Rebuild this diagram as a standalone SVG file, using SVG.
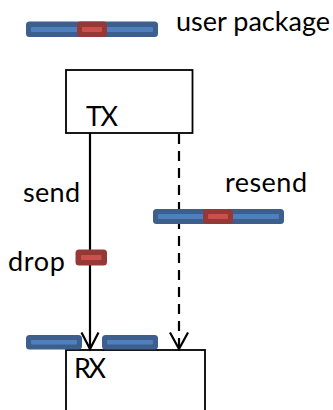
<svg xmlns="http://www.w3.org/2000/svg" width="333" height="410" viewBox="0 0 333 410">
  <style>
    .box { fill: #ffffff; stroke: #000000; stroke-width: 1.8; }
    .lbl { font-family: Lato, "Liberation Sans", sans-serif; font-size: 27px; fill: #000000; }
    .pkt-out { fill: #3c5f8e; }
    .pkt-in { fill: #4f80bd; }
    .seg-out { fill: #953836; }
    .seg-in { fill: #c9504d; }
    .wire { fill: none; stroke: #000000; stroke-width: 2.2; }
    .dash { stroke-dasharray: 10 7; }
    .head { fill: none; stroke: #000000; stroke-width: 2.2; stroke-linejoin: miter; }
  </style>

  <!-- legend: a user package, blue bar with one red segment -->
  <g id="legend">
    <rect class="pkt-out" x="26" y="21.5" width="132" height="15.5" rx="3.5"/>
    <rect class="pkt-in" x="31" y="27" width="122" height="5" rx="1"/>
    <rect class="seg-out" x="77" y="21.5" width="30" height="15.5" rx="3.5"/>
    <rect class="seg-in" x="82" y="27" width="20" height="5" rx="1"/>
    <text class="lbl" x="176" y="31" textLength="154">user package</text>
  </g>

  <!-- transmitter -->
  <g id="tx">
    <rect class="box" x="66" y="70" width="126.5" height="63"/>
    <text class="lbl" x="86" y="126" textLength="32">TX</text>
  </g>

  <!-- receiver (runs off the bottom edge) -->
  <g id="rx">
    <rect class="box" x="66" y="350" width="139" height="70"/>
    <text class="lbl" x="74" y="378" textLength="32">RX</text>
  </g>

  <!-- links from TX down to RX -->
  <g id="connectors">
    <line class="wire" x1="90" y1="133" x2="90" y2="349"/>
    <polyline class="head" points="81.5,332.5 90,349 98.5,332.5"/>
    <line class="wire dash" x1="179" y1="134" x2="179" y2="349"/>
    <polyline class="head" points="170,332.5 179,349 188,332.5"/>
  </g>

  <!-- labels beside the links -->
  <g id="labels">
    <text class="lbl" x="23" y="202" textLength="57">send</text>
    <text class="lbl" x="225" y="192" textLength="82">resend</text>
    <text class="lbl" x="8" y="271" textLength="57">drop</text>
  </g>

  <!-- the full package sent again on the dashed link -->
  <g id="resend-package">
    <rect class="pkt-out" x="153" y="209" width="131" height="15" rx="3.5"/>
    <rect class="pkt-in" x="158" y="214" width="121" height="5" rx="1"/>
    <rect class="seg-out" x="203" y="209" width="30" height="15" rx="3.5"/>
    <rect class="seg-in" x="208" y="214" width="20" height="5" rx="1"/>
  </g>

  <!-- the red segment lost on the solid link -->
  <g id="drop-segment">
    <rect class="seg-out" x="75.5" y="249.5" width="31.5" height="16" rx="3.5"/>
    <rect class="seg-in" x="81" y="255" width="20.5" height="5" rx="1"/>
  </g>

  <!-- what arrives at RX: the blue parts only -->
  <g id="received-parts">
    <rect class="pkt-out" x="26" y="335" width="56" height="14.5" rx="3.5"/>
    <rect class="pkt-in" x="31" y="340" width="46" height="4.5" rx="1"/>
    <rect class="pkt-out" x="102" y="335" width="56" height="14.5" rx="3.5"/>
    <rect class="pkt-in" x="107" y="340" width="46" height="4.5" rx="1"/>
  </g>
</svg>
